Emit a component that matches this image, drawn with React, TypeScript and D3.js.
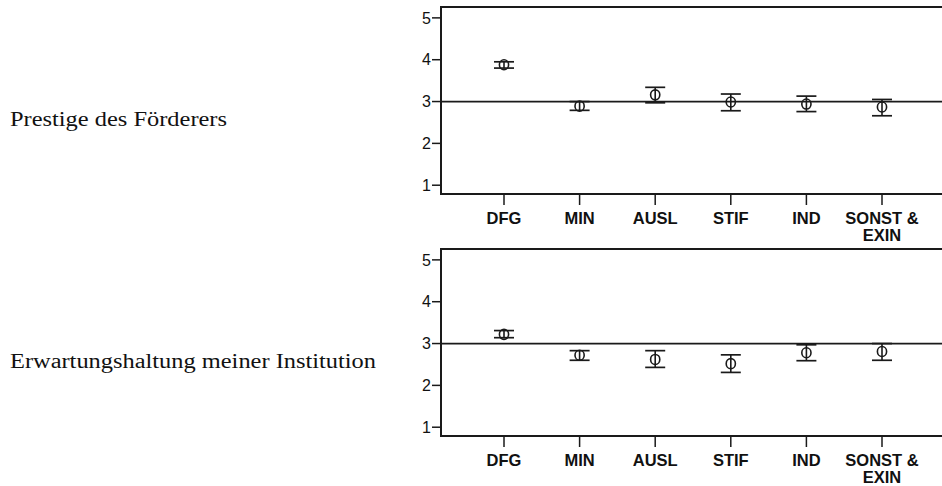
import React from "react";
import * as d3 from "d3";

const categories = ["DFG", "MIN", "AUSL", "STIF", "IND", "SONST & EXIN"];
const categoryLines = [["DFG"], ["MIN"], ["AUSL"], ["STIF"], ["IND"], ["SONST &", "EXIN"]];
const yTicks = [1, 2, 3, 4, 5];
const referenceValue = 3;

const panelLabels = ["Prestige des Förderers", "Erwartungshaltung meiner Institution"];

const prestigeMean = [3.88, 2.89, 3.16, 2.99, 2.94, 2.87];
const prestigeLow = [3.80, 2.79, 2.97, 2.78, 2.76, 2.66];
const prestigeHigh = [3.95, 3.00, 3.34, 3.18, 3.13, 3.05];

const erwartungMean = [3.22, 2.72, 2.62, 2.52, 2.78, 2.81];
const erwartungLow = [3.14, 2.60, 2.43, 2.31, 2.59, 2.60];
const erwartungHigh = [3.31, 2.83, 2.83, 2.73, 2.97, 3.00];

const panels = [
  { label: panelLabels[0], mean: prestigeMean, low: prestigeLow, high: prestigeHigh },
  { label: panelLabels[1], mean: erwartungMean, low: erwartungLow, high: erwartungHigh },
];

const W = 942;
const H = 486;
const frameLeft = 441;
const frameRight = 946;
const panelTop = [7, 249];
const panelHeight = 187;
const labelWidths = [217, 366];
const ink = "#1a1a1a";

function Panel({ idx }: { idx: number }) {
  const p = panels[idx];
  const top = panelTop[idx];
  const bottom = top + panelHeight;
  const y = d3.scaleLinear().domain([0.79, 5.26]).range([bottom, top]);
  const x = d3.scalePoint<string>().domain(categories).range([504, 882]);
  const capHalf = 10;
  return (
    <g>
      <text
        x={10}
        y={(top + bottom) / 2 + 25}
        fontFamily="'Liberation Serif', 'Times New Roman', serif"
        fontSize={20}
        fill="#111"
        textLength={labelWidths[idx]}
        lengthAdjust="spacingAndGlyphs"
      >
        {p.label}
      </text>
      <rect
        x={frameLeft}
        y={top}
        width={frameRight - frameLeft}
        height={panelHeight}
        fill="none"
        stroke={ink}
        strokeWidth={2}
      />
      {yTicks.map((t) => (
        <g key={t}>
          <line x1={frameLeft - 9} x2={frameLeft} y1={y(t)} y2={y(t)} stroke={ink} strokeWidth={1.5} />
          <text
            x={frameLeft - 10}
            y={y(t)}
            dy="0.36em"
            textAnchor="end"
            fontFamily="'Liberation Sans', Arial, sans-serif"
            fontSize={16}
            fill="#111"
          >
            {t}
          </text>
        </g>
      ))}
      <line
        x1={frameLeft}
        x2={frameRight}
        y1={y(referenceValue)}
        y2={y(referenceValue)}
        stroke={ink}
        strokeWidth={1.7}
      />
      {categories.map((c, i) => {
        const cx = x(c) as number;
        return (
          <g key={c}>
            <line x1={cx} x2={cx} y1={bottom} y2={bottom + 11} stroke={ink} strokeWidth={1.5} />
            {categoryLines[i].map((ln, j) => (
              <text
                key={j}
                x={cx}
                y={bottom + 30 + j * 16.5}
                textAnchor="middle"
                fontFamily="'Liberation Sans', Arial, sans-serif"
                fontWeight="bold"
                fontSize={16.5}
                fill="#111"
              >
                {ln}
              </text>
            ))}
            <line x1={cx} x2={cx} y1={y(p.low[i])} y2={y(p.high[i])} stroke={ink} strokeWidth={1.6} />
            <line
              x1={cx - capHalf}
              x2={cx + capHalf}
              y1={y(p.low[i])}
              y2={y(p.low[i])}
              stroke={ink}
              strokeWidth={1.7}
            />
            <line
              x1={cx - capHalf}
              x2={cx + capHalf}
              y1={y(p.high[i])}
              y2={y(p.high[i])}
              stroke={ink}
              strokeWidth={1.7}
            />
            <ellipse
              cx={cx}
              cy={y(p.mean[i])}
              rx={4.6}
              ry={5}
              fill="none"
              stroke={ink}
              strokeWidth={1.6}
            />
          </g>
        );
      })}
    </g>
  );
}

export default function App() {
  return (
    <svg
      width={W}
      height={H}
      style={{ position: "absolute", left: 0, top: 0, display: "block", background: "#fff" }}
    >
      <rect x={0} y={0} width={W} height={H} fill="#fff" />
      <Panel idx={0} />
      <Panel idx={1} />
    </svg>
  );
}
